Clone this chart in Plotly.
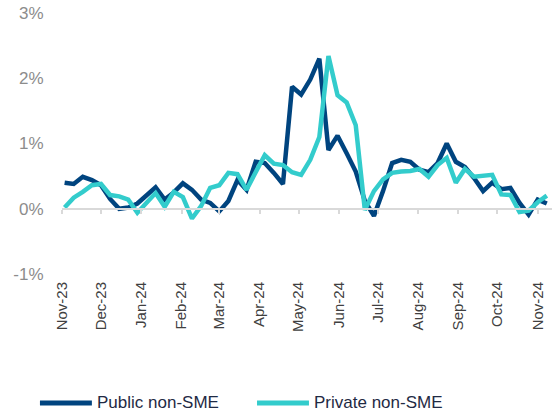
import pandas as pd
import plotly.graph_objects as go

# weekly observations, in %
dates = pd.date_range("2023-11-03", periods=54, freq="7D")

public_non_sme = [0.40, 0.38, 0.49, 0.44, 0.36, 0.15, 0.00, 0.02, 0.08, 0.21,
                  0.33, 0.14, 0.25, 0.39, 0.29, 0.14, 0.09, -0.04, 0.12, 0.44,
                  0.29, 0.72, 0.70, 0.55, 0.38, 1.87, 1.75, 1.98, 2.30, 0.90,
                  1.12, 0.85, 0.57, 0.12, -0.11, 0.27, 0.70, 0.75, 0.72, 0.60,
                  0.56, 0.70, 1.00, 0.72, 0.64, 0.47, 0.27, 0.40, 0.30, 0.32,
                  0.09, -0.09, 0.14, 0.08]

private_non_sme = [0.02, 0.17, 0.26, 0.36, 0.38, 0.21, 0.19, 0.14, -0.06, 0.08,
                   0.24, 0.03, 0.26, 0.18, -0.15, 0.04, 0.32, 0.36, 0.55, 0.53,
                   0.29, 0.56, 0.82, 0.69, 0.67, 0.56, 0.52, 0.75, 1.10, 2.34,
                   1.74, 1.63, 1.28, -0.02, 0.27, 0.45, 0.55, 0.57, 0.58, 0.61,
                   0.49, 0.67, 0.78, 0.40, 0.61, 0.49, 0.50, 0.52, 0.22, 0.21,
                   -0.05, -0.03, 0.10, 0.20]

month_ticks = pd.date_range("2023-11-01", "2024-11-01", freq="MS")
y_ticks = [-1, 0, 1, 2, 3]
y_labels = ["-1%", "0%", "1%", "2%", "3%"]

NAVY = "#00447f"
TEAL = "#33cccc"
x_range = ["2023-11-01", "2024-11-12"]

fig = go.Figure()
fig.add_trace(go.Scatter(x=dates, y=public_non_sme, mode="lines", name="Public non-SME",
                         line=dict(color=NAVY, width=4.5)))
# second series sits on the overlaid axis that carries the zero line and ticks
fig.add_trace(go.Scatter(x=dates, y=private_non_sme, mode="lines", name="Private non-SME",
                         xaxis="x2", line=dict(color=TEAL, width=4.5)))

fig.update_layout(
    width=553, height=418,
    margin=dict(l=62, r=1, t=13, b=144),
    paper_bgcolor="white", plot_bgcolor="white",
    font=dict(family="Liberation Sans, Arial, sans-serif"),
    showlegend=False,
    xaxis=dict(type="date", range=x_range, tickvals=month_ticks, tickformat="%b-%y",
               tickangle=-90, ticks="outside", ticklen=1, tickcolor="rgba(0,0,0,0)",
               showgrid=False, zeroline=False, showline=False, automargin=False,
               tickfont=dict(size=15, color="#404040")),
    xaxis2=dict(type="date", range=x_range, overlaying="x", anchor="free", position=0.25,
                tickvals=month_ticks, showticklabels=False, ticks="outside", ticklen=4,
                tickcolor="#d9d9d9", tickwidth=1.5, showline=True, linecolor="#d9d9d9",
                linewidth=2, showgrid=False, zeroline=False, automargin=False),
    yaxis=dict(range=[-1, 3], tickvals=y_ticks, ticktext=y_labels, ticks="outside",
               ticklen=14, tickcolor="rgba(0,0,0,0)", showgrid=False, zeroline=False,
               showline=False, automargin=False, tickfont=dict(size=17, color="#8c8c8c")),
)

# legend drawn below the axis labels
legend_items = [("Public non-SME", NAVY, -0.045), ("Private non-SME", TEAL, 0.398)]
for label, color, x0 in legend_items:
    fig.add_shape(type="line", xref="paper", yref="paper", x0=x0, x1=x0 + 0.106,
                  y0=-0.494, y1=-0.494, line=dict(color=color, width=5))
    fig.add_annotation(xref="paper", yref="paper", x=x0 + 0.112, y=-0.494, text=label,
                       showarrow=False, xanchor="left", yanchor="middle",
                       font=dict(size=17, color="#1f2a44"))

# drop the default 8px page margin so the figure fills the window
fig.write_html("out.html", config={"displayModeBar": False},
               post_script="document.body.style.margin='0';")
